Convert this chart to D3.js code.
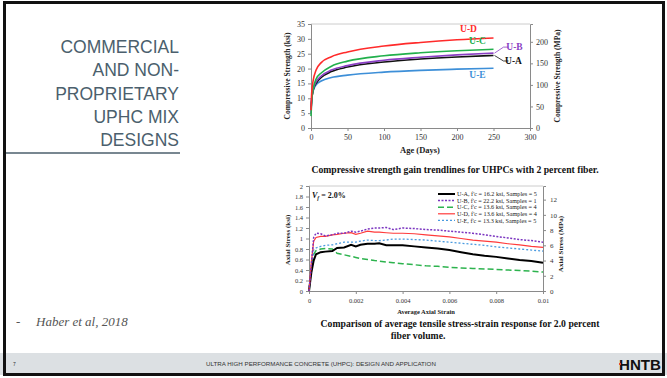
<!DOCTYPE html>
<html>
<head>
<meta charset="utf-8">
<script src="https://cdn.jsdelivr.net/npm/d3@7/dist/d3.min.js"></script>
<style>
  body { margin: 0; background: #fff; }
  svg { display: block; }
  .serif { font-family: "Liberation Serif", "DejaVu Serif", serif; }
</style>
</head>
<body>
<svg id="slide" width="667" height="378"></svg>
<script>
// ---- top chart data: compressive strength (ksi) vs age (days) ----
const ageDays = [0, 1, 3, 7, 14, 28, 50, 100, 150, 200, 250];
const fcUA = [6, 9.5, 12.8, 15, 17, 19, 20.5, 22.2, 23.2, 23.9, 24.4];
const fcUB = [5, 9.5, 13, 15.5, 17.5, 19.5, 21, 22.8, 23.8, 24.6, 25.2];
const fcUC = [4, 9, 13, 16.5, 18.5, 20.8, 22.5, 24.3, 25.3, 26, 26.5];
const fcUD = [6, 12, 16, 19.5, 22, 24, 25.6, 27.6, 28.8, 29.7, 30.3];
const fcUE = [7, 10, 12.5, 14.5, 15.8, 17, 17.8, 18.8, 19.4, 19.8, 20.1];
const mixNames = ['U-A', 'U-B', 'U-C', 'U-D', 'U-E'];
const ageTicks = [0, 50, 100, 150, 200, 250, 300];
const ksiTicks = [0, 5, 10, 15, 20, 25, 30, 35];
const mpaTicks = [0, 50, 100, 150, 200];

// ---- bottom chart data: axial stress (ksi) vs strain ----
const strain = [0, 0.0001, 0.0002, 0.0003, 0.0005, 0.0007, 0.001, 0.0012, 0.0015, 0.0018,
  0.002, 0.0022, 0.0025, 0.0028, 0.003, 0.0033, 0.0036, 0.004, 0.0045, 0.005,
  0.0055, 0.006, 0.0065, 0.007, 0.0075, 0.008, 0.0085, 0.009, 0.0095, 0.01];
const stressUA = [0, 0.35, 0.58, 0.7, 0.74, 0.75, 0.76, 0.82, 0.83, 0.88, 0.85, 0.88, 0.9, 0.9, 0.91,
  0.87, 0.87, 0.87, 0.85, 0.83, 0.81, 0.78, 0.74, 0.7, 0.67, 0.65, 0.62, 0.59, 0.57, 0.54];
const stressUB = [0, 0.5, 1.02, 1.1, 1.09, 1.05, 1.07, 1.1, 1.1, 1.14, 1.12, 1.14, 1.18, 1.2, 1.2,
  1.21, 1.17, 1.2, 1.19, 1.17, 1.16, 1.14, 1.12, 1.1, 1.07, 1.04, 1.01, 0.98, 0.96, 0.93];
const stressUC = [0, 0.45, 0.7, 0.77, 0.8, 0.81, 0.8, 0.72, 0.69, 0.66, 0.64, 0.62, 0.6, 0.58, 0.57,
  0.55, 0.54, 0.52, 0.5, 0.48, 0.47, 0.45, 0.44, 0.43, 0.42, 0.41, 0.4, 0.39, 0.38, 0.36];
const stressUD = [0, 0.55, 0.95, 1.02, 1.04, 1.04, 1.07, 1.08, 1.1, 1.11, 1.08, 1.1, 1.14, 1.12, 1.12,
  1.11, 1.1, 1.1, 1.09, 1.07, 1.05, 1.03, 1.0, 0.97, 0.95, 0.93, 0.9, 0.88, 0.85, 0.83];
const stressUE = [0, 0.45, 0.78, 0.82, 0.85, 0.87, 0.88, 0.9, 0.93, 0.93, 0.93, 0.95, 0.97, 0.96, 0.96,
  0.97, 0.99, 0.99, 0.98, 0.97, 0.95, 0.93, 0.91, 0.89, 0.87, 0.84, 0.82, 0.8, 0.78, 0.76];
const legendLabels = [
  "U-A, f'c = 16.2 ksi, Samples = 5",
  "U-B, f'c = 22.2 ksi, Samples = 1",
  "U-C, f'c = 13.6 ksi, Samples = 4",
  "U-D, f'c = 13.6 ksi, Samples = 4",
  "U-E, f'c = 13.3 ksi, Samples = 5"
];
const strainTicks = [0, 0.002, 0.004, 0.006, 0.008, 0.01];
const stressTicks = d3.range(0, 2.01, 0.2);
const stressMpaTicks = [0, 2, 4, 6, 8, 10, 12];

const titleLines = ['COMMERCIAL', 'AND NON-', 'PROPRIETARY', 'UPHC MIX', 'DESIGNS'];

const KSI_TO_MPA = 6.895;
const svg = d3.select('#slide');

// ---- slide frame / side panel ----
svg.append('rect').attr('x', 0).attr('y', 353).attr('width', 667).attr('height', 22).attr('fill', '#dce0e3');
svg.append('rect').attr('x', 4.5).attr('y', 2.5).attr('width', 659).attr('height', 372)
  .attr('fill', 'none').attr('stroke', '#111').attr('stroke-width', 3);

svg.append('g').selectAll('text').data(titleLines).enter().append('text')
  .attr('x', 179).attr('y', (d, i) => 53 + i * 23.3)
  .attr('text-anchor', 'end')
  .attr('fill', '#4b5f6d')
  .style('font-family', '"Liberation Sans", Arial, sans-serif')
  .style('font-size', '17.5px')
  .text(d => d);
svg.append('line').attr('x1', 6).attr('x2', 180).attr('y1', 153).attr('y2', 153)
  .attr('stroke', '#4b5f6d').attr('stroke-width', 1.3);

svg.append('text').attr('x', 16).attr('y', 326).attr('fill', '#555')
  .attr('class', 'serif').style('font-size', '13px').text('-');
svg.append('text').attr('x', 36).attr('y', 326).attr('fill', '#555')
  .attr('class', 'serif').style('font-size', '13px').style('font-style', 'italic')
  .text('Haber et al, 2018');

// footer
svg.append('text').attr('x', 13).attr('y', 366).attr('fill', '#333')
  .style('font-family', '"Liberation Sans", Arial, sans-serif').style('font-size', '5px').text('7');
svg.append('text').attr('x', 321).attr('y', 366).attr('text-anchor', 'middle').attr('fill', '#333')
  .style('font-family', '"Liberation Sans", Arial, sans-serif').style('font-size', '6.2px')
  .text('ULTRA HIGH PERFORMANCE CONCRETE (UHPC): DESIGN AND APPLICATION');
svg.append('text').attr('x', 619).attr('y', 369.5).attr('fill', '#111')
  .attr('textLength', 42).attr('lengthAdjust', 'spacingAndGlyphs')
  .style('font-family', '"Liberation Sans", Arial, sans-serif').style('font-size', '14px')
  .style('font-weight', 'bold').text('HNTB');
svg.append('rect').attr('x', 619).attr('y', 363).attr('width', 2).attr('height', 2).attr('fill', '#e8462a');

// ---- helpers ----
function drawAxis(g, axis, tf, fontSize) {
  const a = g.append('g').attr('transform', tf).call(axis);
  a.selectAll('path, line').attr('stroke', '#8a8a8a');
  a.selectAll('text').attr('class', 'serif').style('font-size', fontSize).attr('fill', '#333');
  return a;
}

// ---- top chart ----
const topChart = svg.append('g');
const x1 = d3.scaleLinear().domain([0, 300]).range([311, 530]);
const y1 = d3.scaleLinear().domain([0, 35]).range([128, 24]);
const y1r = d3.scaleLinear().domain([0, 35 * KSI_TO_MPA]).range([128, 24]);

topChart.append('line').attr('x1', 311).attr('x2', 530).attr('y1', 24).attr('y2', 24).attr('stroke', '#ccc');
drawAxis(topChart, d3.axisLeft(y1).tickValues(ksiTicks).tickSize(3).tickPadding(3), 'translate(311,0)', '8px');
drawAxis(topChart, d3.axisBottom(x1).tickValues(ageTicks).tickSize(3).tickPadding(3), 'translate(0,128)', '8px');
drawAxis(topChart, d3.axisRight(y1r).tickValues(mpaTicks).tickSize(3).tickPadding(3), 'translate(530,0)', '8px');

const topSeries = [
  { name: 'U-E', vals: fcUE, color: '#3d8fd8' },
  { name: 'U-A', vals: fcUA, color: '#111' },
  { name: 'U-B', vals: fcUB, color: '#8a3fc4' },
  { name: 'U-C', vals: fcUC, color: '#22b04c' },
  { name: 'U-D', vals: fcUD, color: '#ff2b2b' }
];
const line1 = d3.line().x((d, i) => x1(ageDays[i])).y(d => y1(d)).curve(d3.curveMonotoneX);
topChart.selectAll('path.trend').data(topSeries).enter().append('path')
  .attr('class', 'trend')
  .attr('d', d => line1(d.vals))
  .attr('fill', 'none').attr('stroke', d => d.color).attr('stroke-width', 1.6);

// end labels
const lastDay = ageDays[ageDays.length - 1];
const labelPos = {
  'U-D': { dx: -25, dy: -6, lead: false },
  'U-C': { dx: -16, dy: -5, lead: false },
  'U-B': { dx: 21, dy: -3.5, lead: true },
  'U-A': { dx: 20, dy: 8, lead: true },
  'U-E': { dx: -16, dy: 10, lead: false }
};
topSeries.forEach(s => {
  const p = labelPos[s.name];
  const ex = x1(lastDay), ey = y1(s.vals[s.vals.length - 1]);
  if (p.lead) {
    topChart.append('path')
      .attr('d', `M${ex + 1},${ey} L${ex + 10},${ey + p.dy - 2.5} L${ex + 15},${ey + p.dy - 2.5}`)
      .attr('fill', 'none').attr('stroke', s.color).attr('stroke-width', 0.8);
  }
  topChart.append('text')
    .attr('x', ex + p.dx).attr('y', ey + p.dy + (p.lead ? 0.5 : 0))
    .attr('text-anchor', 'middle')
    .attr('class', 'serif').style('font-size', '9.5px').style('font-weight', 'bold')
    .attr('fill', s.color).text(s.name);
});

topChart.append('text').attr('x', 420).attr('y', 153).attr('text-anchor', 'middle')
  .attr('class', 'serif').style('font-size', '8.5px').style('font-weight', 'bold').attr('fill', '#222')
  .text('Age (Days)');
topChart.append('text').attr('transform', 'translate(290,76) rotate(-90)').attr('text-anchor', 'middle')
  .attr('class', 'serif').style('font-size', '7.5px').style('font-weight', 'bold').attr('fill', '#222')
  .text('Compressive Strength (ksi)');
topChart.append('text').attr('transform', 'translate(560,76) rotate(-90)').attr('text-anchor', 'middle')
  .attr('class', 'serif').style('font-size', '7.5px').style('font-weight', 'bold').attr('fill', '#222')
  .text('Compressive Strength (MPa)');
topChart.append('text').attr('x', 455).attr('y', 173).attr('text-anchor', 'middle')
  .attr('class', 'serif').style('font-size', '9.7px').style('font-weight', 'bold').attr('fill', '#111')
  .text('Compressive strength gain trendlines for UHPCs with 2 percent fiber.');

// ---- bottom chart ----
const botChart = svg.append('g');
const x2 = d3.scaleLinear().domain([0, 0.01]).range([309, 543]);
const y2 = d3.scaleLinear().domain([0, 2]).range([291, 186]);
const y2r = d3.scaleLinear().domain([0, 2 * KSI_TO_MPA]).range([291, 186]);

botChart.append('line').attr('x1', 309).attr('x2', 543).attr('y1', 186).attr('y2', 186).attr('stroke', '#ccc');
drawAxis(botChart, d3.axisLeft(y2).tickValues(stressTicks).tickSize(3).tickPadding(3)
  .tickFormat(d => String(+d.toFixed(1))), 'translate(309,0)', '6.5px');
drawAxis(botChart, d3.axisBottom(x2).tickValues(strainTicks).tickSize(3).tickPadding(4)
  .tickFormat(d => String(+d.toFixed(3))), 'translate(0,291)', '6.5px');
drawAxis(botChart, d3.axisRight(y2r).tickValues(stressMpaTicks).tickSize(3).tickPadding(4), 'translate(543,0)', '7px');

const botSeries = [
  { name: 'U-C', vals: stressUC, color: '#2db34e', width: 1.5, dash: '6,3' },
  { name: 'U-E', vals: stressUE, color: '#4a9be0', width: 1.3, dash: '2,2' },
  { name: 'U-A', vals: stressUA, color: '#000', width: 2, dash: null },
  { name: 'U-D', vals: stressUD, color: '#ff3b3b', width: 1.2, dash: null },
  { name: 'U-B', vals: stressUB, color: '#7b35c0', width: 1.5, dash: '2,1.5' }
];
const line2 = d3.line().x((d, i) => x2(strain[i])).y(d => y2(d));
botChart.selectAll('path.ss').data(botSeries).enter().append('path')
  .attr('class', 'ss')
  .attr('d', d => line2(d.vals))
  .attr('fill', 'none').attr('stroke', d => d.color)
  .attr('stroke-width', d => d.width)
  .attr('stroke-dasharray', d => d.dash);

// legend
const legend = botChart.append('g').attr('transform', 'translate(438,194)');
mixNames.forEach((name, i) => {
  const s = botSeries.find(b => b.name === name);
  const g = legend.append('g').attr('transform', `translate(0,${i * 6.6})`);
  g.append('line').attr('x1', 0).attr('x2', 17).attr('y1', 0).attr('y2', 0)
    .attr('stroke', s.color).attr('stroke-width', s.width).attr('stroke-dasharray', s.dash);
  g.append('text').attr('x', 19).attr('y', 2.2).attr('class', 'serif')
    .style('font-size', '6.2px').attr('fill', '#222').text(legendLabels[i]);
});

const vf = botChart.append('text').attr('x', 312).attr('y', 198).attr('class', 'serif')
  .style('font-size', '8px').style('font-weight', 'bold').style('font-style', 'italic').attr('fill', '#111');
vf.append('tspan').text('V');
vf.append('tspan').attr('dy', 2).style('font-size', '5.5px').text('f');
vf.append('tspan').attr('dy', -2).style('font-style', 'normal').text(' = 2.0%');

botChart.append('text').attr('x', 426).attr('y', 314).attr('text-anchor', 'middle')
  .attr('class', 'serif').style('font-size', '6.5px').style('font-weight', 'bold').attr('fill', '#222')
  .text('Average Axial Strain');
botChart.append('text').attr('transform', 'translate(290,240) rotate(-90)').attr('text-anchor', 'middle')
  .attr('class', 'serif').style('font-size', '7px').style('font-weight', 'bold').attr('fill', '#222')
  .text('Axial Stress (ksi)');
botChart.append('text').attr('transform', 'translate(563,244) rotate(-90)').attr('text-anchor', 'middle')
  .attr('class', 'serif').style('font-size', '7px').style('font-weight', 'bold').attr('fill', '#222')
  .text('Axial Stress (MPa)');
botChart.append('text').attr('x', 460).attr('y', 327).attr('text-anchor', 'middle')
  .attr('class', 'serif').style('font-size', '9.7px').style('font-weight', 'bold').attr('fill', '#111')
  .text('Comparison of average tensile stress-strain response for 2.0 percent');
botChart.append('text').attr('x', 418).attr('y', 338.5).attr('text-anchor', 'middle')
  .attr('class', 'serif').style('font-size', '9.7px').style('font-weight', 'bold').attr('fill', '#111')
  .text('fiber volume.');
</script>
</body>
</html>
